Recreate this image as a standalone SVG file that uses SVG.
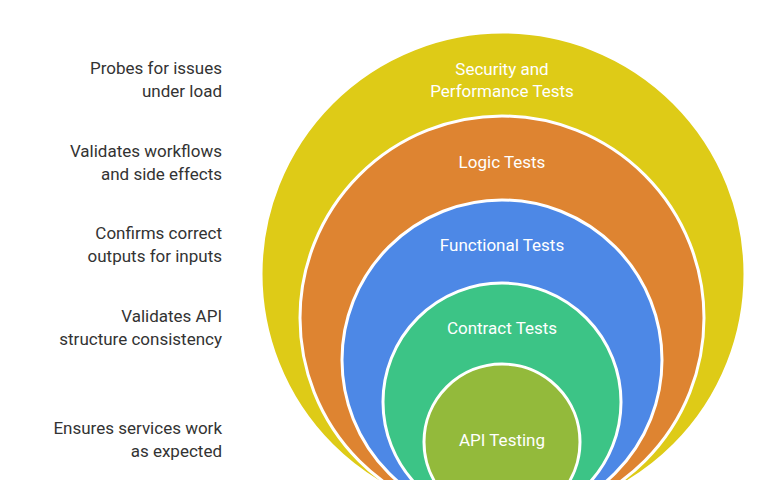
<svg xmlns="http://www.w3.org/2000/svg" width="768" height="480" viewBox="0 0 768 480">
<style>
.c{stroke:#fff;stroke-width:3}
.t{font-family:Roboto,"Liberation Sans",sans-serif;font-size:17px;fill:#fff;text-anchor:middle}
.l{font-family:Roboto,"Liberation Sans",sans-serif;font-size:17px;fill:#333;text-anchor:end}
</style>
<rect width="768" height="480" fill="#fff"/>
<g id="security"><circle class="c" cx="503" cy="274" r="242" fill="#DECB17"/><text class="t" x="502" y="75">Security and</text><text class="t" x="502" y="97">Performance Tests</text></g>
<g id="logic"><circle class="c" cx="502" cy="318" r="202" fill="#DE8431"/><text class="t" x="502" y="168">Logic Tests</text></g>
<g id="functional"><circle class="c" cx="502" cy="360" r="160" fill="#4D88E6"/><text class="t" x="502" y="251">Functional Tests</text></g>
<g id="contract"><circle class="c" cx="502" cy="402" r="119" fill="#3CC486"/><text class="t" x="502" y="334">Contract Tests</text></g>
<g id="api"><circle class="c" cx="502" cy="442" r="78" fill="#93BA3B"/><text class="t" x="502" y="446">API Testing</text></g>
<g id="labels">
<text class="l" x="222" y="74">Probes for issues</text><text class="l" x="222" y="97">under load</text>
<text class="l" x="222" y="157">Validates workflows</text><text class="l" x="222" y="180">and side effects</text>
<text class="l" x="222" y="239">Confirms correct</text><text class="l" x="222" y="262">outputs for inputs</text>
<text class="l" x="222" y="322">Validates API</text><text class="l" x="222" y="345">structure consistency</text>
<text class="l" x="222" y="434">Ensures services work</text><text class="l" x="222" y="457">as expected</text>
</g>
</svg>
